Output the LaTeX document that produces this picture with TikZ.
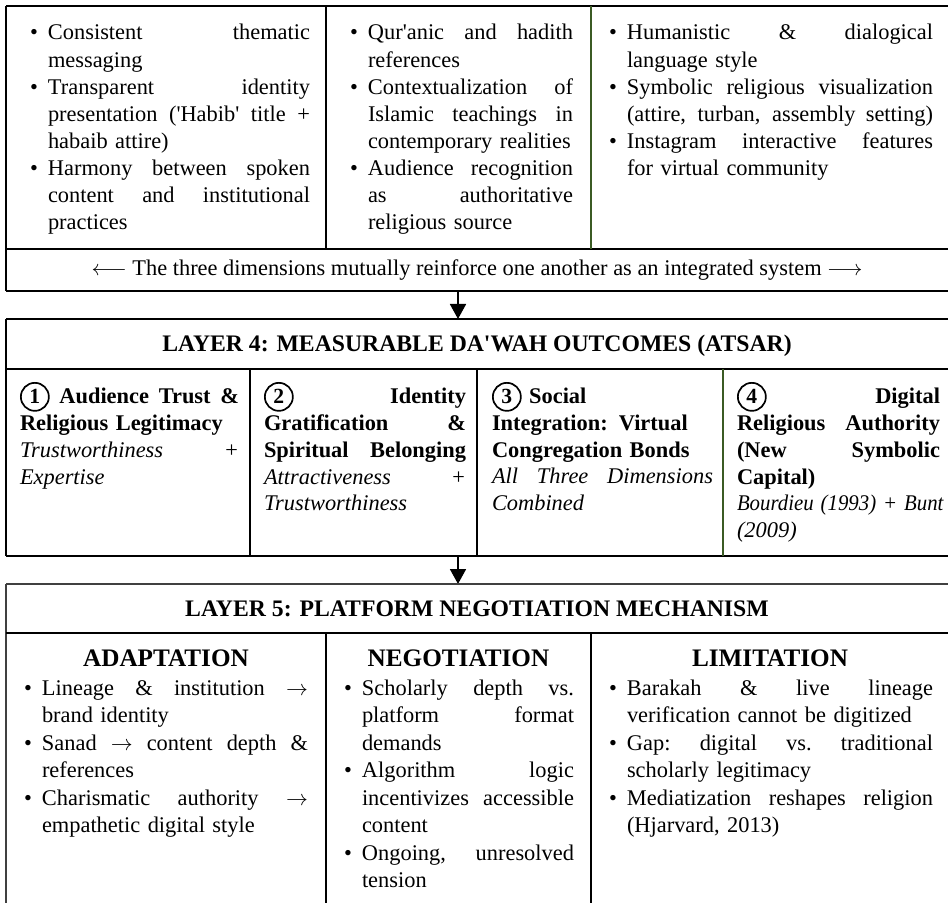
\documentclass[tikz,border=0pt]{standalone}
\usepackage{fontspec}
\setmainfont{Liberation Serif}
\usepackage{graphicx}
\usetikzlibrary{arrows.meta}
\definecolor{dgreen}{HTML}{3B5B24}
\definecolor{lgray}{HTML}{404040}
\newcommand{\jl}[1]{\makebox[\hsize][s]{\spaceskip=0.25em plus 1fil\xspaceskip=\spaceskip #1}}
\newcommand{\bul}{\leavevmode\llap{\textbullet\hspace{5pt}}}
\newcommand{\itl}{\mdseries\itshape}
\newcommand{\cnum}[1]{\tikz[baseline=(cn.base)]\node[circle,draw,line width=0.85pt,inner sep=0pt,minimum size=14pt,font=\fontsize{10.8}{12}\selectfont\bfseries](cn){#1};}
\tikzset{
  frame/.style={line width=1pt},
  inner/.style={line width=0.7pt},
  gdiv/.style={line width=0.8pt, draw=dgreen},
  cellbox/.style={anchor=north west, inner sep=0pt, outer sep=0pt, text width=#1,
    execute at begin node={\setlength{\parindent}{0pt}\setlength{\parskip}{0pt}}},
  topfont/.style={font=\fontsize{11.2}{13.55}\selectfont},
  l4font/.style={font=\fontsize{11.2}{13.35}\selectfont\bfseries},
  l5font/.style={font=\fontsize{11.2}{13.75}\selectfont},
  titlebox/.style={anchor=base, inner sep=0pt, font=\fontsize{11.85}{14}\selectfont\bfseries},
  headbox/.style={anchor=base, inner sep=0pt, font=\fontsize{12.6}{15}\selectfont\bfseries},
  rowtext/.style={anchor=base, inner sep=0pt, font=\fontsize{11.2}{13.5}\selectfont},
  flow/.style={line width=0.9pt, -{Triangle[width=8pt,length=7.5pt]}},
}
\begin{document}
\begin{tikzpicture}[x=0.5pt,y=-0.5pt]
\useasboundingbox (0,0) rectangle (948,903);

% ---------- top section ----------
\draw[frame] (6,6) -- (948,6);
\draw[frame] (6,6) -- (6,291);
\draw[inner] (6,249) -- (948,249);
\draw[frame] (6,291) -- (948,291);
\draw[inner] (326,6) -- (326,249);
\draw[gdiv] (591,6) -- (591,249);

\node[cellbox=131pt, topfont] (t1) at (48,21) {%
\strut\bul\jl{Consistent thematic}\par
messaging\par
\bul\jl{Transparent identity}\par
\jl{presentation (\textquotesingle Habib\textquotesingle{} title +}\par
habaib attire)\par
\bul\jl{Harmony between spoken}\par
\jl{content and institutional}\par
practices};

\node[cellbox=102.5pt, topfont] (t2) at (368,21) {%
\strut\bul\jl{Qur\textquotesingle anic and hadith}\par
references\par
\bul\jl{Contextualization of}\par
\jl{Islamic teachings in}\par
contemporary realities\par
\bul\jl{Audience recognition}\par
\jl{as authoritative}\par
religious source};

\node[cellbox=153pt, topfont] (t3) at (627,21) {%
\strut\bul\jl{Humanistic \& dialogical}\par
language style\par
\bul\jl{Symbolic religious visualization}\par
\jl{(attire, turban, assembly setting)}\par
\bul\jl{Instagram interactive features}\par
for virtual community};

\node[rowtext] (dims) at (477,276) {$\longleftarrow$ The three dimensions mutually reinforce one another as an integrated system $\longrightarrow$};

\coordinate (a1s) at (458,291);
\coordinate (a1e) at (458,319);
\draw[flow] (a1s) -- (a1e);

% ---------- layer 4 ----------
\draw[frame] (6,319) -- (948,319);
\draw[frame] (6,319) -- (6,556);
\draw[frame] (6,369) -- (948,369);
\draw[frame] (6,556) -- (948,556);
\draw[inner] (250,369) -- (250,556);
\draw[inner] (477,369) -- (477,556);
\draw[gdiv] (723,369) -- (723,556);

\node[titlebox] (l4title) at (477,352) {LAYER 4: MEASURABLE DA\textquotesingle WAH OUTCOMES (ATSAR)};

\node[cellbox=109.5pt, l4font] (o1) at (20,382) {%
\strut\jl{\cnum{1} Audience Trust \&}\par
Religious Legitimacy\par
\jl{\itl Trustworthiness +}\par
{\itl Expertise}};

\node[cellbox=101pt, l4font] (o2) at (264,382) {%
\strut\jl{\cnum{2} Identity}\par
\jl{Gratification \&}\par
\jl{Spiritual Belonging}\par
\jl{\itl Attractiveness +}\par
{\itl Trustworthiness}};

\node[cellbox=110.5pt, l4font] (o3) at (492,382) {%
\strut\cnum{3} Social\par
Integration: Virtual\par
Congregation Bonds\par
\jl{\itl All Three Dimensions}\par
{\itl Combined}};

\node[cellbox=101.5pt, l4font] (o4) at (737,382) {%
\strut\jl{\cnum{4} Digital}\par
\jl{Religious Authority}\par
\jl{(New Symbolic}\par
Capital)\par
{\itl\scalebox{0.93}[1]{Bourdieu (1993) + Bunt}}\par
{\itl (2009)}};

\coordinate (a2s) at (458,556);
\coordinate (a2e) at (458,584);
\draw[flow] (a2s) -- (a2e);

% ---------- layer 5 ----------
\draw[frame, draw=lgray] (6,584) -- (948,584);
\draw[frame, draw=lgray] (6,584) -- (6,903);
\draw[frame] (6,633) -- (948,633);
\draw[inner] (326,633) -- (326,903);
\draw[inner] (591,633) -- (591,903);

\node[titlebox] (l5title) at (477,617) {LAYER 5: PLATFORM NEGOTIATION MECHANISM};

\node[headbox] (hadapt) at (166,666) {ADAPTATION};
\node[headbox] (hnego) at (458.5,666) {NEGOTIATION};
\node[headbox] (hlimit) at (770,666) {LIMITATION};

\node[cellbox=133pt, l5font] (m1) at (42,676) {%
\strut\bul\jl{Lineage \& institution $\rightarrow$}\par
brand identity\par
\bul\jl{Sanad $\rightarrow$ content depth \&}\par
references\par
\bul\jl{Charismatic authority $\rightarrow$}\par
empathetic digital style};

\node[cellbox=106pt, l5font] (m2) at (362,676) {%
\strut\bul\jl{Scholarly depth vs.}\par
\jl{platform format}\par
demands\par
\bul\jl{Algorithm logic}\par
\jl{incentivizes accessible}\par
content\par
\bul\jl{Ongoing, unresolved}\par
tension};

\node[cellbox=153pt, l5font] (m3) at (627,676) {%
\strut\bul\jl{Barakah \& live lineage}\par
verification cannot be digitized\par
\bul\jl{Gap: digital vs. traditional}\par
scholarly legitimacy\par
\bul\jl{Mediatization reshapes religion}\par
(Hjarvard, 2013)};
\end{tikzpicture}
\end{document}
